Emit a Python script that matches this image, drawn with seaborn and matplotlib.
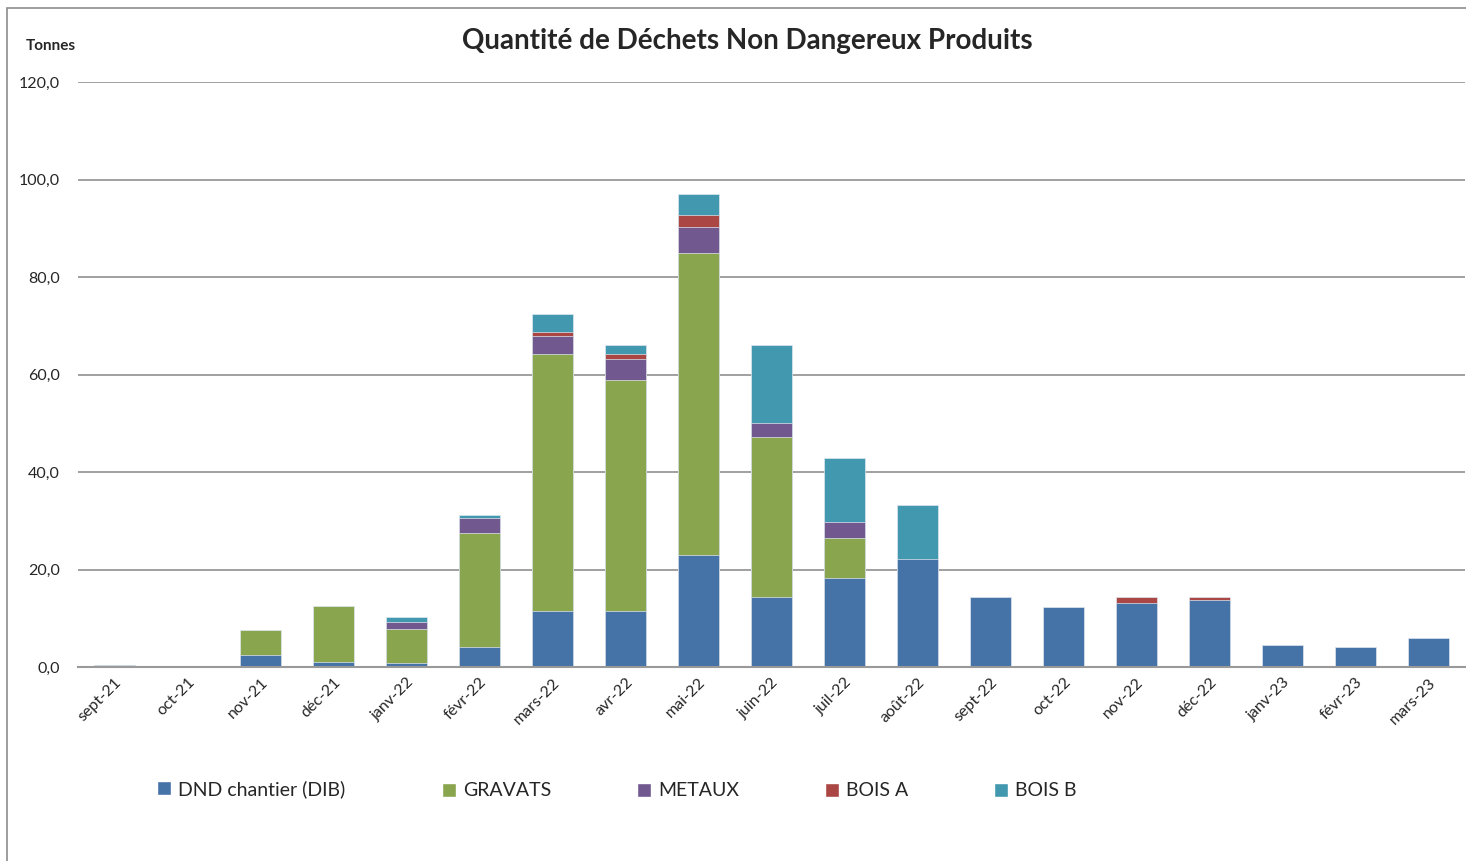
import numpy as np
import matplotlib.pyplot as plt
import seaborn as sns
import pandas as pd
from matplotlib.patches import Patch, Rectangle
from matplotlib.ticker import FuncFormatter

mois = ["sept-21", "oct-21", "nov-21", "déc-21", "janv-22", "févr-22", "mars-22",
        "avr-22", "mai-22", "juin-22", "juil-22", "août-22", "sept-22", "oct-22",
        "nov-22", "déc-22", "janv-23", "févr-23", "mars-23"]

dnd     = [0.5, 0.0, 2.5, 1.1, 0.9, 4.2, 11.5, 11.5, 23.0, 14.3, 18.3, 22.2, 14.3, 12.3, 13.1, 13.8, 4.5, 4.2, 6.0]
gravats = [0.0, 0.0, 5.1, 11.5, 6.9, 23.3, 52.7, 47.4, 62.0, 32.8, 8.2, 0.0, 0.0, 0.0, 0.0, 0.0, 0.0, 0.0, 0.0]
metaux  = [0.0, 0.0, 0.0, 0.0, 1.4, 3.1, 3.8, 4.2, 5.3, 3.0, 3.2, 0.0, 0.0, 0.0, 0.0, 0.0, 0.0, 0.0, 0.0]
bois_a  = [0.0, 0.0, 0.0, 0.0, 0.0, 0.0, 0.8, 1.1, 2.4, 0.0, 0.0, 0.0, 0.0, 0.0, 1.3, 0.6, 0.0, 0.0, 0.0]
bois_b  = [0.0, 0.0, 0.0, 0.0, 1.1, 0.6, 3.6, 1.9, 4.3, 15.9, 13.1, 11.0, 0.0, 0.0, 0.0, 0.0, 0.0, 0.0, 0.0]

series = ["DND chantier (DIB)", "GRAVATS", "METAUX", "BOIS A", "BOIS B"]
couleurs = ["#4572A7", "#89A54E", "#71588F", "#AA4643", "#4198AF"]

sns.set_theme(style="white")
plt.rcParams['font.family'] = ['Lato', 'DejaVu Sans']

fig = plt.figure(figsize=(14.66, 8.61), dpi=100)
ax = fig.add_axes([78 / 1466, 1 - 667 / 861, 1387 / 1466, 585 / 861])

# cumuls pour empiler : on dessine du plus haut au plus bas
valeurs = [dnd, gravats, metaux, bois_a, bois_b]
cumul = np.cumsum(np.array(valeurs), axis=0)

for i in range(len(series) - 1, -1, -1):
    h = np.where(np.array(valeurs[i]) > 0, cumul[i], np.nan)  # pas de barre vide
    df = pd.DataFrame({"Mois": mois, "Tonnes": h})
    sns.barplot(data=df, x="Mois", y="Tonnes", order=mois, color=couleurs[i],
                saturation=1, width=0.56, edgecolor="#dfe6ee", linewidth=0.5, ax=ax)

ax.set_ylim(0, 120)
ax.set_xlim(-0.5, 18.5)
ax.set_yticks(np.arange(0, 121, 20))
ax.yaxis.set_major_formatter(FuncFormatter(lambda v, p: f"{v:.1f}".replace(".", ",")))
ax.yaxis.grid(True, color="#999999", linewidth=1.3)
ax.set_axisbelow(True)
for s in ["top", "right", "left"]:
    ax.spines[s].set_visible(False)
ax.spines["bottom"].set_color("#999999")
ax.spines["bottom"].set_linewidth(1.5)
ax.set_xlabel("")
ax.set_ylabel("")
ax.tick_params(axis="y", length=0, pad=13, labelsize=11.5)
ax.tick_params(axis="x", length=0, pad=6, labelsize=11.5)
plt.setp(ax.get_xticklabels(), rotation=45, ha="right", rotation_mode="anchor")

fig.text(747 / 1466, 1 - 41 / 861, "Quantité de Déchets Non Dangereux Produits",
         ha="center", va="center", fontsize=20, fontweight="bold")
fig.text(26 / 1466, 1 - 46 / 861, "Tonnes", ha="left", va="center",
         fontsize=11, fontweight="bold")

handles = [Patch(facecolor=c, label=s) for s, c in zip(series, couleurs)]
leg_x = [157, 442, 637, 825, 994]
leg_y = [789, 791, 791, 791, 791]
for h, x, y in zip(handles, leg_x, leg_y):
    fig.legend(handles=[h], loc="center left", bbox_to_anchor=(x / 1466, 1 - y / 861),
               frameon=False, fontsize=14, handlelength=0.7, handleheight=0.7,
               handletextpad=0.4, borderaxespad=0, borderpad=0)

# cadre gris du graphique
fig.patches.append(Rectangle((7 / 1466, -0.1), 1.2, 1 - 8 / 861 + 0.1,
                             transform=fig.transFigure, fill=False,
                             edgecolor="#8c8c8c", linewidth=1.2))

plt.savefig("out.png", dpi=100)
plt.close()
